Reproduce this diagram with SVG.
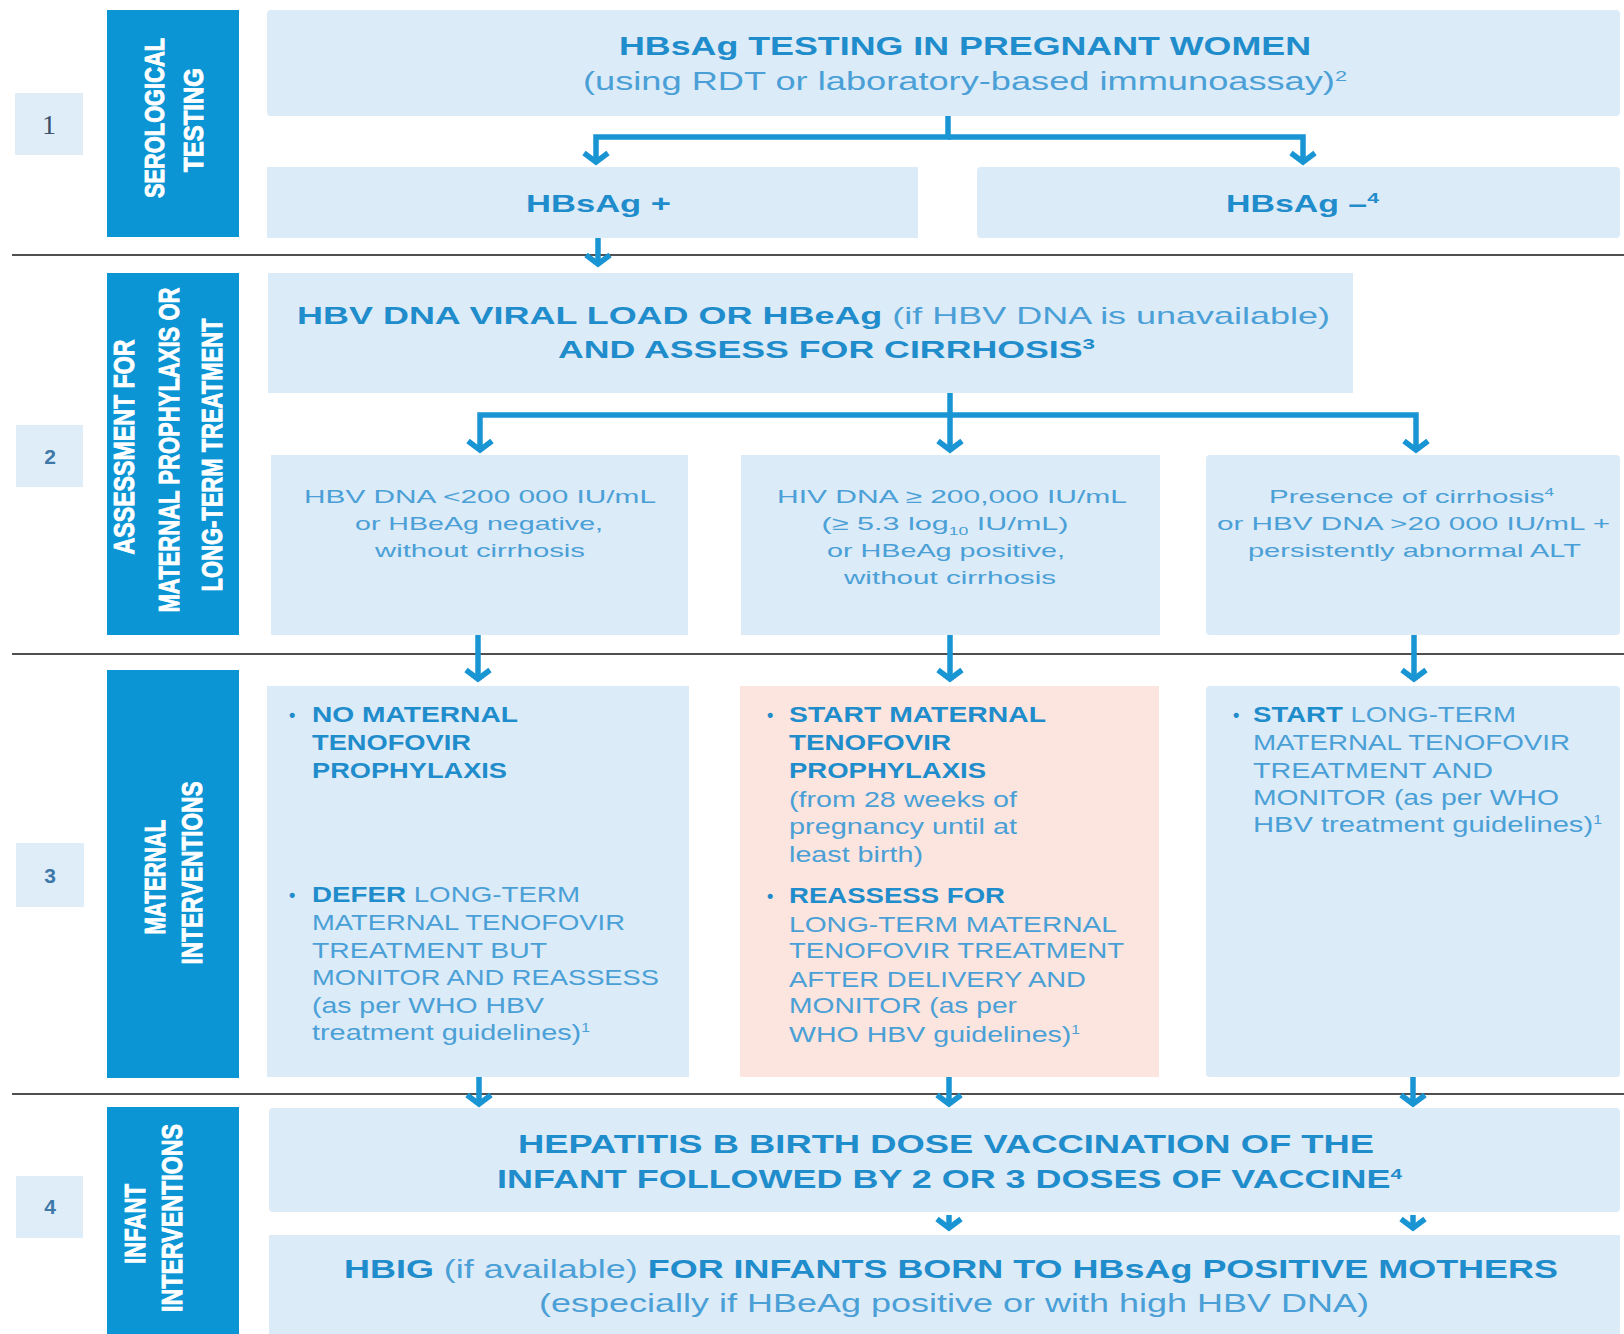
<svg xmlns="http://www.w3.org/2000/svg" width="1624" height="1334" viewBox="0 0 1624 1334">
<style>
.box{fill:#dcebf8}
.pink{fill:#fbe5de}
.side{fill:#0b95d5}
.numbox{fill:#dfedf9}
.sep{stroke:#505050;stroke-width:2}
.conn{fill:none;stroke:#1a95d3;stroke-width:5.5;stroke-linejoin:miter}
text{font-family:'Liberation Sans',Arial,sans-serif}
.st{font-weight:bold;fill:#ffffff;stroke:#ffffff;stroke-width:0.9;font-size:29px}
.st1{font-size:27px}
.b{font-weight:bold;fill:#1f8ccb}
.r{font-weight:normal;fill:#4aa0d6}
.f26{font-size:26px}
.f25{font-size:25px}
.f24{font-size:24px}
.f22{font-size:22px}
.f19{font-size:19px}
.bul{font-size:18px;font-weight:bold;fill:#1f8ccb}
.n{font-weight:bold;fill:#3d78a8;font-size:21px}
.n1{font-family:'Liberation Serif',serif;fill:#3c5068;font-size:28px}
</style>
<defs>
<marker id="ah" viewBox="-20 -20 40 40" markerWidth="40" markerHeight="40" refX="0" refY="0" orient="auto" markerUnits="userSpaceOnUse" overflow="visible">
<path d="M-9,-12 L0,0 L-9,12" fill="none" stroke="#1a95d3" stroke-width="5.5"/>
</marker>
</defs>

<g id="separators">
<line class="sep" x1="12" y1="255" x2="1624" y2="255"/>
<line class="sep" x1="12" y1="654" x2="1624" y2="654"/>
<line class="sep" x1="12" y1="1094" x2="1624" y2="1094"/>
</g>

<g id="step-numbers">
<g id="num1"><rect class="numbox" x="15" y="93" width="68" height="62"/><text class="n1" x="49" y="134" text-anchor="middle">1</text></g>
<g id="num2"><rect class="numbox" x="16" y="425" width="67" height="62"/><text class="n" x="50" y="464" text-anchor="middle">2</text></g>
<g id="num3"><rect class="numbox" x="16" y="843" width="68" height="64"/><text class="n" x="50" y="883" text-anchor="middle">3</text></g>
<g id="num4"><rect class="numbox" x="16" y="1176" width="67" height="62"/><text class="n" x="50" y="1214" text-anchor="middle">4</text></g>
</g>

<g id="side1">
<rect class="side" x="107" y="10" width="132" height="227"/>
<text class="st st1" transform="translate(164,118) rotate(-90)" text-anchor="middle" textLength="160" lengthAdjust="spacingAndGlyphs">SEROLOGICAL</text>
<text class="st st1" transform="translate(203,120) rotate(-90)" text-anchor="middle" textLength="104" lengthAdjust="spacingAndGlyphs">TESTING</text>
</g>
<g id="side2">
<rect class="side" x="107" y="273" width="132" height="362"/>
<text class="st" transform="translate(134,447) rotate(-90)" text-anchor="middle" textLength="215" lengthAdjust="spacingAndGlyphs">ASSESSMENT FOR</text>
<text class="st" transform="translate(179,450) rotate(-90)" text-anchor="middle" textLength="325" lengthAdjust="spacingAndGlyphs">MATERNAL PROPHYLAXIS OR</text>
<text class="st" transform="translate(222,455) rotate(-90)" text-anchor="middle" textLength="273" lengthAdjust="spacingAndGlyphs">LONG-TERM TREATMENT</text>
</g>
<g id="side3">
<rect class="side" x="107" y="670" width="132" height="408"/>
<text class="st" transform="translate(165,877) rotate(-90)" text-anchor="middle" textLength="115" lengthAdjust="spacingAndGlyphs">MATERNAL</text>
<text class="st" transform="translate(202,873) rotate(-90)" text-anchor="middle" textLength="183" lengthAdjust="spacingAndGlyphs">INTERVENTIONS</text>
</g>
<g id="side4">
<rect class="side" x="107" y="1107" width="132" height="227"/>
<text class="st" transform="translate(145,1224) rotate(-90)" text-anchor="middle" textLength="80" lengthAdjust="spacingAndGlyphs">INFANT</text>
<text class="st" transform="translate(182,1218) rotate(-90)" text-anchor="middle" textLength="188" lengthAdjust="spacingAndGlyphs">INTERVENTIONS</text>
</g>

<g id="n-testing">
<rect class="box" x="267" y="10" width="1353" height="106" rx="4"/>
<text class="b f25" x="965" y="55" text-anchor="middle" textLength="692" lengthAdjust="spacingAndGlyphs">HBsAg TESTING IN PREGNANT WOMEN</text>
<text class="r f25" x="965" y="90" text-anchor="middle" textLength="764" lengthAdjust="spacingAndGlyphs">(using RDT or laboratory-based immunoassay)<tspan dy="-9" font-size="15">2</tspan></text>
</g>
<g id="n-pos">
<rect class="box" x="267" y="167" width="651" height="71"/>
<text class="b f24" x="598.5" y="212" text-anchor="middle" textLength="145" lengthAdjust="spacingAndGlyphs">HBsAg +</text>
</g>
<g id="n-neg">
<rect class="box" x="977" y="167" width="643" height="71" rx="4"/>
<text class="b f24" x="1302.5" y="212" text-anchor="middle" textLength="153" lengthAdjust="spacingAndGlyphs">HBsAg –<tspan dy="-9" font-size="15">4</tspan></text>
</g>

<g id="n-assess">
<rect class="box" x="268" y="273" width="1085" height="120"/>
<text class="b f24" x="813.5" y="324" text-anchor="middle" textLength="1033" lengthAdjust="spacingAndGlyphs">HBV DNA VIRAL LOAD OR HBeAg<tspan class="r"> (if HBV DNA is unavailable)</tspan></text>
<text class="b f24" x="826.5" y="358" text-anchor="middle" textLength="537" lengthAdjust="spacingAndGlyphs">AND ASSESS FOR CIRRHOSIS<tspan dy="-9" font-size="15">3</tspan></text>
</g>

<g id="n-crit-low">
<rect class="box" x="271" y="455" width="417" height="180"/>
<text class="r f19" x="480" y="503" text-anchor="middle" textLength="352" lengthAdjust="spacingAndGlyphs">HBV DNA &lt;200 000 IU/mL</text>
<text class="r f19" x="479" y="530" text-anchor="middle" textLength="248" lengthAdjust="spacingAndGlyphs">or HBeAg negative,</text>
<text class="r f19" x="480" y="557" text-anchor="middle" textLength="210" lengthAdjust="spacingAndGlyphs">without cirrhosis</text>
</g>
<g id="n-crit-high">
<rect class="box" x="741" y="455" width="419" height="180"/>
<text class="r f19" x="952" y="503" text-anchor="middle" textLength="350" lengthAdjust="spacingAndGlyphs">HIV DNA ≥ 200,000 IU/mL</text>
<text class="r f19" x="945" y="530" text-anchor="middle" textLength="247" lengthAdjust="spacingAndGlyphs">(≥ 5.3 log<tspan dy="5" font-size="11">10</tspan><tspan dy="-5"> IU/mL)</tspan></text>
<text class="r f19" x="946" y="557" text-anchor="middle" textLength="238" lengthAdjust="spacingAndGlyphs">or HBeAg positive,</text>
<text class="r f19" x="950" y="584" text-anchor="middle" textLength="212" lengthAdjust="spacingAndGlyphs">without cirrhosis</text>
</g>
<g id="n-crit-cirr">
<rect class="box" x="1206" y="455" width="414" height="180" rx="4"/>
<text class="r f19" x="1411.5" y="503" text-anchor="middle" textLength="285" lengthAdjust="spacingAndGlyphs">Presence of cirrhosis<tspan dy="-7" font-size="11">4</tspan></text>
<text class="r f19" x="1413.5" y="530" text-anchor="middle" textLength="393" lengthAdjust="spacingAndGlyphs">or HBV DNA &gt;20 000 IU/mL +</text>
<text class="r f19" x="1414.5" y="557" text-anchor="middle" textLength="333" lengthAdjust="spacingAndGlyphs">persistently abnormal ALT</text>
</g>

<g id="n-int-none">
<rect class="box" x="267" y="686" width="422" height="391"/>
<text class="bul" x="289" y="721">•</text>
<text class="b f22" x="312" y="722" textLength="206" lengthAdjust="spacingAndGlyphs">NO MATERNAL</text>
<text class="b f22" x="312" y="750" textLength="159" lengthAdjust="spacingAndGlyphs">TENOFOVIR</text>
<text class="b f22" x="312" y="778" textLength="195" lengthAdjust="spacingAndGlyphs">PROPHYLAXIS</text>
<text class="bul" x="289" y="901">•</text>
<text class="b f22" x="312" y="902" textLength="268" lengthAdjust="spacingAndGlyphs">DEFER<tspan class="r"> LONG-TERM</tspan></text>
<text class="r f22" x="312" y="930" textLength="313" lengthAdjust="spacingAndGlyphs">MATERNAL TENOFOVIR</text>
<text class="r f22" x="312" y="958" textLength="235" lengthAdjust="spacingAndGlyphs">TREATMENT BUT</text>
<text class="r f22" x="312" y="985" textLength="347" lengthAdjust="spacingAndGlyphs">MONITOR AND REASSESS</text>
<text class="r f22" x="312" y="1013" textLength="232" lengthAdjust="spacingAndGlyphs">(as per WHO HBV</text>
<text class="r f22" x="312" y="1040" textLength="278" lengthAdjust="spacingAndGlyphs">treatment guidelines)<tspan dy="-8" font-size="12">1</tspan></text>
</g>
<g id="n-int-proph">
<rect class="pink" x="740" y="686" width="419" height="391"/>
<text class="bul" x="767" y="721">•</text>
<text class="b f22" x="789" y="722" textLength="257" lengthAdjust="spacingAndGlyphs">START MATERNAL</text>
<text class="b f22" x="789" y="750" textLength="162" lengthAdjust="spacingAndGlyphs">TENOFOVIR</text>
<text class="b f22" x="789" y="778" textLength="197" lengthAdjust="spacingAndGlyphs">PROPHYLAXIS</text>
<text class="r f22" x="789" y="807" textLength="228" lengthAdjust="spacingAndGlyphs">(from 28 weeks of</text>
<text class="r f22" x="789" y="834" textLength="228" lengthAdjust="spacingAndGlyphs">pregnancy until at</text>
<text class="r f22" x="789" y="862" textLength="134" lengthAdjust="spacingAndGlyphs">least birth)</text>
<text class="bul" x="767" y="902">•</text>
<text class="b f22" x="789" y="903" textLength="216" lengthAdjust="spacingAndGlyphs">REASSESS FOR</text>
<text class="r f22" x="789" y="932" textLength="328" lengthAdjust="spacingAndGlyphs">LONG-TERM MATERNAL</text>
<text class="r f22" x="789" y="958" textLength="335" lengthAdjust="spacingAndGlyphs">TENOFOVIR TREATMENT</text>
<text class="r f22" x="789" y="987" textLength="297" lengthAdjust="spacingAndGlyphs">AFTER DELIVERY AND</text>
<text class="r f22" x="789" y="1013" textLength="228" lengthAdjust="spacingAndGlyphs">MONITOR (as per</text>
<text class="r f22" x="789" y="1042" textLength="291" lengthAdjust="spacingAndGlyphs">WHO HBV guidelines)<tspan dy="-8" font-size="12">1</tspan></text>
</g>
<g id="n-int-treat">
<rect class="box" x="1206" y="686" width="414" height="391" rx="4"/>
<text class="bul" x="1233" y="721">•</text>
<text class="b f22" x="1253" y="722" textLength="263" lengthAdjust="spacingAndGlyphs">START<tspan class="r"> LONG-TERM</tspan></text>
<text class="r f22" x="1253" y="750" textLength="317" lengthAdjust="spacingAndGlyphs">MATERNAL TENOFOVIR</text>
<text class="r f22" x="1253" y="778" textLength="240" lengthAdjust="spacingAndGlyphs">TREATMENT AND</text>
<text class="r f22" x="1253" y="805" textLength="306" lengthAdjust="spacingAndGlyphs">MONITOR (as per WHO</text>
<text class="r f22" x="1253" y="832" textLength="349" lengthAdjust="spacingAndGlyphs">HBV treatment guidelines)<tspan dy="-8" font-size="12">1</tspan></text>
</g>

<g id="n-vaccine">
<rect class="box" x="269" y="1108" width="1351" height="104" rx="4"/>
<text class="b f26" x="946" y="1153" text-anchor="middle" textLength="856" lengthAdjust="spacingAndGlyphs">HEPATITIS B BIRTH DOSE VACCINATION OF THE</text>
<text class="b f26" x="949.5" y="1188" text-anchor="middle" textLength="905" lengthAdjust="spacingAndGlyphs">INFANT FOLLOWED BY 2 OR 3 DOSES OF VACCINE<tspan dy="-9" font-size="15">4</tspan></text>
</g>
<g id="n-hbig">
<rect class="box" x="269" y="1235" width="1351" height="99"/>
<text class="b f26" x="951" y="1278" text-anchor="middle" textLength="1214" lengthAdjust="spacingAndGlyphs">HBIG<tspan class="r"> (if available) </tspan>FOR INFANTS BORN TO HBsAg POSITIVE MOTHERS</text>
<text class="r f25" x="954" y="1312" text-anchor="middle" textLength="830" lengthAdjust="spacingAndGlyphs">(especially if HBeAg positive or with high HBV DNA)</text>
</g>

<g id="connectors">
<path class="conn" d="M948,116 V137 H596 V162" marker-end="url(#ah)"/>
<path class="conn" d="M948,137 H1303 V162" marker-end="url(#ah)"/>
<path class="conn" d="M598,238 V264" marker-end="url(#ah)"/>
<path class="conn" d="M950,393 V415 H480 V450" marker-end="url(#ah)"/>
<path class="conn" d="M950,415 H1416 V450" marker-end="url(#ah)"/>
<path class="conn" d="M950,415 V450" marker-end="url(#ah)"/>
<path class="conn" d="M478,635 V679" marker-end="url(#ah)"/>
<path class="conn" d="M950,635 V679" marker-end="url(#ah)"/>
<path class="conn" d="M1414,635 V679" marker-end="url(#ah)"/>
<path class="conn" d="M479,1077 V1104" marker-end="url(#ah)"/>
<path class="conn" d="M949,1077 V1104" marker-end="url(#ah)"/>
<path class="conn" d="M1413,1077 V1104" marker-end="url(#ah)"/>
<path class="conn" d="M949,1215 V1228" marker-end="url(#ah)"/>
<path class="conn" d="M1413,1215 V1228" marker-end="url(#ah)"/>
</g>
</svg>
